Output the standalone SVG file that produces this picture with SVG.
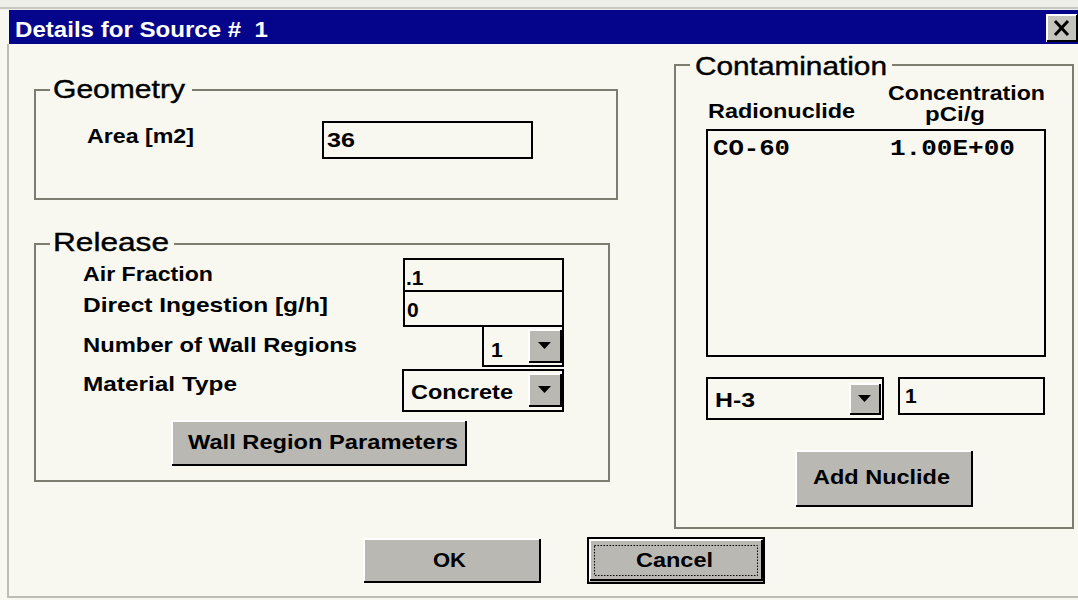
<svg xmlns="http://www.w3.org/2000/svg" width="1078" height="600" viewBox="0 0 1078 600">
<style>
.bg{fill:#f8f8f0}
.grp{fill:none;stroke:#7c7c70;stroke-width:2}
.ttl{font-family:"Liberation Sans",Arial,sans-serif;font-size:25px;fill:#000;stroke:#000;stroke-width:0.4}
.lbl{font-family:"Liberation Sans",Arial,sans-serif;font-size:21px;font-weight:bold;fill:#000}
.mono{font-family:"Liberation Mono","Courier New",monospace;font-size:22px;font-weight:bold;fill:#000}
.inp{fill:none;stroke:#000;stroke-width:2}
.btn{fill:#b9b8b2}
.hi{fill:none;stroke:#ffffff;stroke-width:2}
.sh{fill:none;stroke:#000;stroke-width:2}
.arr{fill:#000}
</style>
<rect x="0" y="0" width="1078" height="600" class="bg"/>
<rect x="0" y="0" width="1078" height="10" fill="#efefea"/>
<line x1="0" y1="8" x2="1078" y2="8" stroke="#c8c8c0" stroke-width="2"/>
<line x1="8" y1="44" x2="8" y2="598" stroke="#bdbdb5" stroke-width="2"/>
<line x1="8" y1="597" x2="1078" y2="597" stroke="#bdbdb5" stroke-width="2"/>

<g id="titlebar">
<rect x="9" y="10" width="1069" height="34" fill="#05058c"/>
<text x="15" y="37" font-family="Liberation Sans,Arial,sans-serif" font-size="22" font-weight="bold" fill="#ffffff" textLength="253" lengthAdjust="spacingAndGlyphs">Details for Source #&#160; 1</text>
<g id="close">
<rect x="1047" y="15" width="30" height="27" fill="#c4c3bc"/>
<polyline points="1047,42 1047,15 1077,15" class="hi"/>
<polyline points="1047,41 1077,41 1077,15" class="sh"/>
<line x1="1055" y1="21" x2="1068" y2="35" stroke="#000" stroke-width="3"/>
<line x1="1068" y1="21" x2="1055" y2="35" stroke="#000" stroke-width="3"/>
</g>
</g>

<g id="geometry">
<polyline points="50,90 35,90 35,199 617,199 617,90 192,90" class="grp"/>
<text x="53" y="98" class="ttl" textLength="132" lengthAdjust="spacingAndGlyphs">Geometry</text>
<text x="87" y="143" class="lbl" textLength="107" lengthAdjust="spacingAndGlyphs">Area [m2]</text>
<rect x="323" y="122" width="209" height="36" class="inp"/>
<text x="327" y="147" class="lbl" textLength="28" lengthAdjust="spacingAndGlyphs">36</text>
</g>

<g id="release">
<polyline points="50,244 35,244 35,481 609,481 609,244 174,244" class="grp"/>
<text x="53" y="251" class="ttl" textLength="116" lengthAdjust="spacingAndGlyphs">Release</text>
<text x="83" y="281" class="lbl" textLength="130" lengthAdjust="spacingAndGlyphs">Air Fraction</text>
<text x="83" y="312" class="lbl" textLength="245" lengthAdjust="spacingAndGlyphs">Direct Ingestion [g/h]</text>
<text x="83" y="352" class="lbl" textLength="274" lengthAdjust="spacingAndGlyphs">Number of Wall Regions</text>
<text x="83" y="391" class="lbl" textLength="154" lengthAdjust="spacingAndGlyphs">Material Type</text>
<rect x="404" y="259" width="159" height="32" class="inp"/>
<text x="406" y="285" class="lbl">.1</text>
<rect x="404" y="291" width="159" height="35" class="inp"/>
<text x="407" y="317" class="lbl">0</text>
<g id="num-walls">
<rect x="483" y="326" width="80" height="40" class="inp"/>
<text x="491" y="357" class="lbl">1</text>
<rect x="528" y="329" width="33" height="34" class="btn"/>
<polyline points="529,363 529,330 561,330" class="hi"/>
<polyline points="529,362 561,362 561,330" class="sh"/>
<polygon points="538,342 551,342 544.5,349" class="arr"/>
</g>
<g id="material">
<rect x="403" y="370" width="160" height="41" class="inp"/>
<text x="411" y="399" class="lbl" textLength="102" lengthAdjust="spacingAndGlyphs">Concrete</text>
<rect x="528" y="373" width="33" height="34" class="btn"/>
<polyline points="529,407 529,374 561,374" class="hi"/>
<polyline points="529,406 561,406 561,374" class="sh"/>
<polygon points="538,386 551,386 544.5,393" class="arr"/>
</g>
<g id="wall-btn">
<rect x="171" y="420" width="295" height="46" class="btn"/>
<polyline points="172,466 172,421 466,421" class="hi"/>
<polyline points="172,465 466,465 466,421" class="sh"/>
<text x="188" y="449" class="lbl" textLength="270" lengthAdjust="spacingAndGlyphs">Wall Region Parameters</text>
</g>
</g>

<g id="contamination">
<polyline points="690,65 675,65 675,528 1073,528 1073,65 892,65" class="grp"/>
<text x="695" y="75" class="ttl" textLength="192" lengthAdjust="spacingAndGlyphs">Contamination</text>
<text x="708" y="118" class="lbl" textLength="147" lengthAdjust="spacingAndGlyphs">Radionuclide</text>
<text x="888" y="100" class="lbl" textLength="157" lengthAdjust="spacingAndGlyphs">Concentration</text>
<text x="925" y="121" class="lbl" textLength="60" lengthAdjust="spacingAndGlyphs">pCi/g</text>
<rect x="707" y="130" width="338" height="226" class="inp"/>
<text x="713" y="155" class="mono" textLength="77" lengthAdjust="spacingAndGlyphs">CO-60</text>
<text x="890" y="155" class="mono" textLength="125" lengthAdjust="spacingAndGlyphs">1.00E+00</text>
<g id="nuclide-select">
<rect x="707" y="378" width="176" height="41" class="inp"/>
<text x="715" y="407" class="lbl" textLength="40" lengthAdjust="spacingAndGlyphs">H-3</text>
<rect x="849" y="383" width="31" height="32" class="btn"/>
<polyline points="850,415 850,384 880,384" class="hi"/>
<polyline points="850,414 880,414 880,384" class="sh"/>
<polygon points="858,395 871,395 864.5,402" class="arr"/>
</g>
<rect x="899" y="378" width="145" height="36" class="inp"/>
<text x="905" y="403" class="lbl">1</text>
<g id="add-btn">
<rect x="795" y="450" width="177" height="57" class="btn"/>
<polyline points="796,507 796,451 972,451" class="hi"/>
<polyline points="796,506 972,506 972,451" class="sh"/>
<text x="813" y="484" class="lbl" textLength="137" lengthAdjust="spacingAndGlyphs">Add Nuclide</text>
</g>
</g>

<g id="ok-btn">
<rect x="363" y="538" width="177" height="45" class="btn"/>
<polyline points="364,583 364,539 540,539" class="hi"/>
<polyline points="364,582 540,582 540,539" class="sh"/>
<text x="433" y="567" class="lbl" textLength="33" lengthAdjust="spacingAndGlyphs">OK</text>
</g>
<g id="cancel-btn">
<rect x="587" y="537" width="178" height="47" class="btn"/>
<rect x="588" y="538" width="176" height="45" fill="none" stroke="#000" stroke-width="2"/>
<polyline points="590,581 590,540 762,540" class="hi"/>
<polyline points="590,580 762,580 762,540" class="sh"/>
<rect x="594.5" y="545.5" width="163" height="30" fill="none" stroke="#000" stroke-width="1" stroke-dasharray="1.5 1.5"/>
<text x="636" y="567" class="lbl" textLength="77" lengthAdjust="spacingAndGlyphs">Cancel</text>
</g>
</svg>
